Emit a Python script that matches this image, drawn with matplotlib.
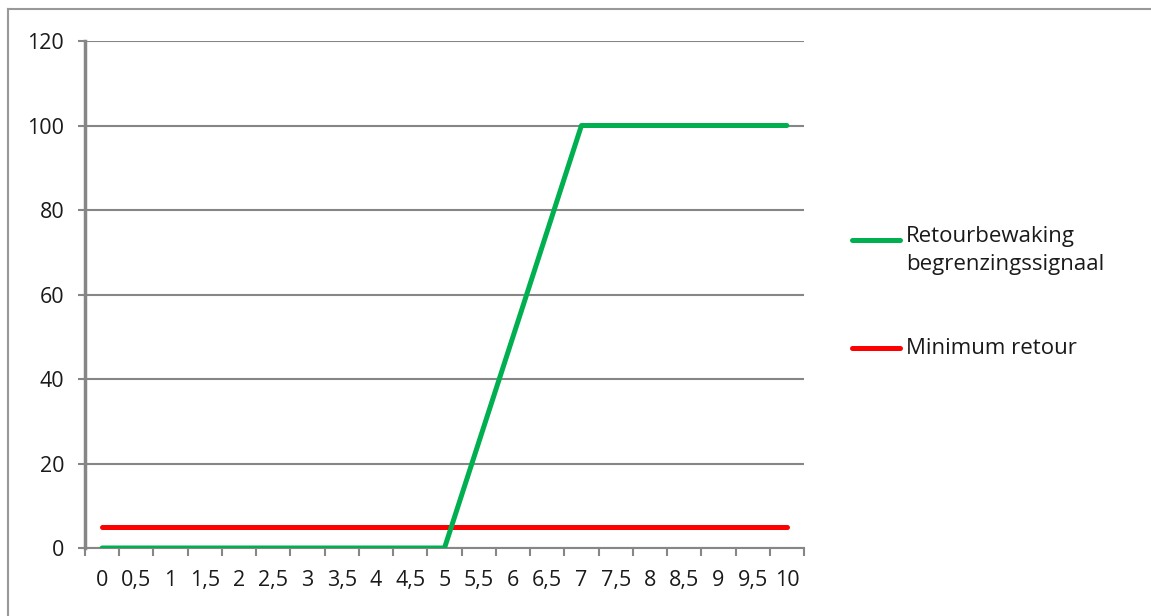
import numpy as np
import matplotlib.pyplot as plt
from matplotlib.lines import Line2D

# data
categories = ['0', '0,5', '1', '1,5', '2', '2,5', '3', '3,5', '4', '4,5', '5',
              '5,5', '6', '6,5', '7', '7,5', '8', '8,5', '9', '9,5', '10']
retour_bewaking = [0, 0, 0, 0, 0, 0, 0, 0, 0, 0, 0,
                   25, 50, 75, 100, 100, 100, 100, 100, 100, 100]
minimum_retour = [5] * 21
label_green = 'Retourbewaking\nbegrenzingssignaal'
label_red = 'Minimum retour'

plt.rcParams['font.family'] = ['Open Sans', 'DejaVu Sans']

W, H = 1151, 616
fig = plt.figure(figsize=(W / 100, H / 100), dpi=100)
ax = fig.add_axes([85 / W, 1 - 548 / H, (804 - 85) / W, (548 - 41) / H])

grid_col = '#868686'
txt_col = '#1a1a1a'
fs = 15.5
x = np.arange(len(categories))

ax.plot(x, minimum_retour, color='#FF0000', lw=3.6, solid_capstyle='round', zorder=3)
ax.plot(x, retour_bewaking, color='#00B050', lw=3.6, solid_capstyle='round', zorder=4)

ax.set_xlim(-0.5, len(categories) - 0.5)
ax.set_ylim(0, 120)
ax.set_yticks(np.arange(0, 121, 20))
ax.set_xticks(x)
ax.set_xticklabels(categories)
ax.set_xticks(np.arange(-0.5, len(categories), 1), minor=True)

ax.yaxis.grid(True, color=grid_col, lw=1.5)
ax.set_axisbelow(True)

for s in ['top', 'right']:
    ax.spines[s].set_visible(False)
ax.spines['left'].set_color(grid_col)
ax.spines['left'].set_linewidth(2.5)
ax.spines['bottom'].set_color(grid_col)
ax.spines['bottom'].set_linewidth(1.5)

ax.tick_params(axis='x', which='major', length=0, pad=16, labelsize=fs, labelcolor=txt_col)
ax.tick_params(axis='x', which='minor', length=6, width=1.5, color=grid_col, direction='out')
ax.tick_params(axis='y', length=5, width=1.5, color=grid_col, direction='out', pad=10,
               labelsize=fs, labelcolor=txt_col)

# legend drawn by hand (Excel style, handle aligned with first line)
def fx(px):
    return px / W

def fy(py):
    return 1 - py / H

fig.add_artist(Line2D([fx(852), fx(900)], [fy(240), fy(240)], color='#00B050', lw=3.6,
                      solid_capstyle='round'))
fig.text(fx(906), fy(226), label_green, fontsize=16, color=txt_col, va='top',
         linespacing=1.45)
fig.add_artist(Line2D([fx(852), fx(900)], [fy(348), fy(348)], color='#FF0000', lw=3.6,
                      solid_capstyle='round'))
fig.text(fx(906), fy(348), label_red, fontsize=16, color=txt_col, va='center')

# outer chart border (top and left only visible)
fig.add_artist(Line2D([fx(8), fx(8)], [fy(9), 0], color='#999999', lw=1.5))
fig.add_artist(Line2D([fx(8), 1], [fy(9), fy(9)], color='#999999', lw=1.5))

fig.savefig('out.png', dpi=100)
